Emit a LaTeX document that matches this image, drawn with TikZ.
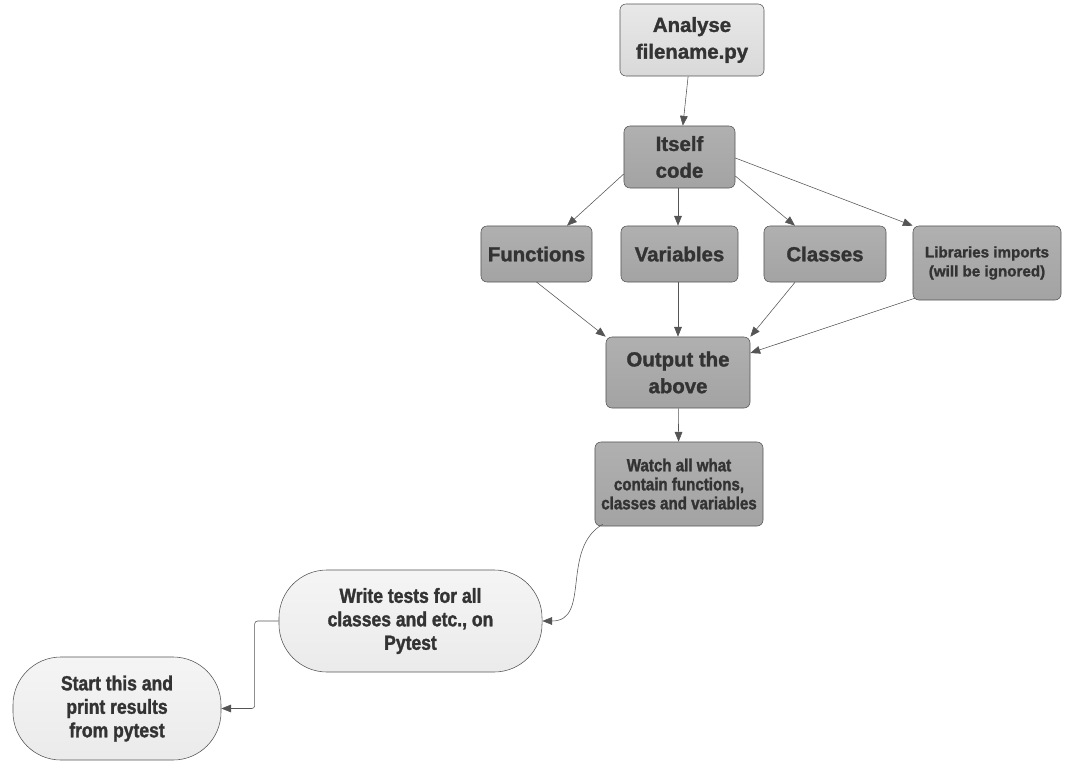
\documentclass[tikz,border=0pt]{standalone}
\usepackage{fontspec}
\setmainfont{Liberation Sans}[BoldFeatures={FakeBold=1.5}]
\newfontfamily\narrowfont{Liberation Sans}[FakeStretch=0.86,BoldFeatures={FakeBold=1.5,FakeStretch=0.86}]
\usepackage{xcolor}
\usetikzlibrary{arrows.meta}
\usetikzlibrary{positioning}
\definecolor{edgegray}{HTML}{555555}
\definecolor{textgray}{HTML}{333333}
\begin{document}
\begin{tikzpicture}[x=0.025cm,y=-0.025cm,
    box/.style={rectangle,rounded corners=0.15cm,draw=edgegray,thin,text=textgray,align=center,font=\bfseries\fontsize{14.5}{19}\selectfont},
    lightbox/.style={box,top color=gray!18,bottom color=gray!30},
    darkbox/.style={box,top color=gray!62,bottom color=gray!72},
    pill/.style={box,rounded corners=1.2cm,top color=gray!8,bottom color=gray!16,font=\narrowfont\bfseries\fontsize{14.5}{16.7}\selectfont}]
    \useasboundingbox (0,0) rectangle (1073,763);
			\begin{scope}
		    \node[lightbox,minimum width=3.6cm,minimum height=1.8cm] (analyse) at (692,40) {Analyse\\filename.py};
		    \node[darkbox,minimum width=2.775cm,minimum height=1.55cm] (itself) at (679.5,157) {Itself\\code};
		    \node[darkbox,minimum width=2.775cm,minimum height=1.4cm] (functions) at (536.5,254) {Functions};
		    \node[darkbox,minimum width=2.925cm,minimum height=1.4cm] (variables) at (679.5,254) {Variables};
		    \node[darkbox,minimum width=3.05cm,minimum height=1.4cm] (classes) at (825,254) {Classes};
		    \node[darkbox,minimum width=3.7cm,minimum height=1.85cm,font=\bfseries\fontsize{10.8}{13.5}\selectfont] (libs) at (987,263) {Libraries imports\\ (will be ignored)};
		    \node[darkbox,minimum width=3.6cm,minimum height=1.775cm] (output) at (678,372.5) {Output the\\above};
		    \node[darkbox,minimum width=4.2cm,minimum height=2.1cm,font=\narrowfont\bfseries\fontsize{12.5}{13.5}\selectfont] (watch) at (679,484) {Watch all what\\contain functions,\\classes and variables};
		    \node[pill,minimum width=6.575cm,minimum height=2.55cm] (write) at (410.5,621) {Write tests for all\\classes and etc., on\\Pytest};
		    \node[pill,minimum width=5.2cm,minimum height=2.575cm] (start) at (117,708.5) {Start this and\\print results\\ from pytest};
			\end{scope}
			\begin{scope}[every edge/.style={draw=edgegray,thin,-{Triangle[length=7pt,width=5.5pt]}}]
		    \path (analyse) edge (itself);
		    \path (itself.west |- 0,174) edge (functions.north -| 567,0);
		    \path (itself.south -| output) edge (variables.north -| output);
		    \path (itself.east |- 0,176) edge (classes.north -| 795,0);
		    \path (itself.east |- 0,158) edge (libs.north west);
		    \path (functions.south |- 0,282) edge (output.north west);
		    \path (variables.south -| output) edge (output);
		    \path (classes.south -| 795,0) edge (output.north east);
		    \path (libs.south west) ++(2,-2) edge (output.east |- 0,353);
		    \path (output) edge (watch);
		    \path (watch.south west) ++(8,-2) edge[out=-150,in=0,looseness=1.1] (write.east);
		    \path (write.west) edge[to path={-- ++(-24,0) |- (\tikztotarget)},rounded corners=2pt] (start.east);
	    \end{scope}
    \end{tikzpicture}
\end{document}
